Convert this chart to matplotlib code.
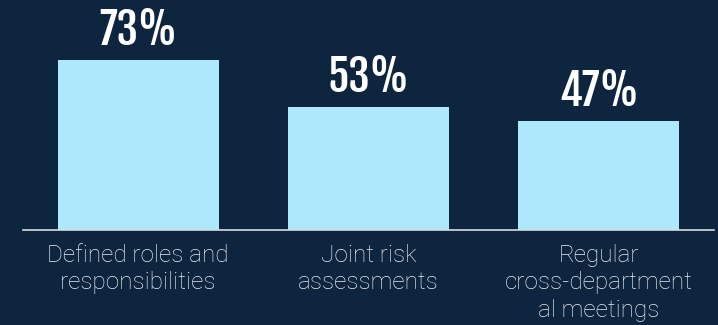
import matplotlib.pyplot as plt

# Chart data
categories = ["Defined roles and\nresponsibilities", "Joint risk\nassessments",
              "Regular\ncross-department\nal meetings"]
values = [73, 53, 47]
value_labels = ["73%", "53%", "47%"]

bg = "#0e2540"
bar_color = "#aee8fd"

fig = plt.figure(figsize=(7.18, 3.25), dpi=100, facecolor=bg)
ax = fig.add_axes([23 / 718, 95 / 325, 691 / 718, 230 / 325])
ax.set_facecolor(bg)

x = list(range(len(categories)))
ax.bar(x, values, width=0.70, color=bar_color, zorder=2)

for xi, v, lab in zip(x, values, value_labels):
    ax.annotate(lab, (xi, v), xytext=(0, 4), textcoords="offset points",
                ha="center", va="bottom", color="white", fontsize=31,
                family=["Fjalla One", "DejaVu Sans"])

ax.set_xlim(-0.5, 2.5)
ax.set_ylim(0, 230 / (170 / 73))
ax.set_xticks(x)
ax.set_xticklabels(categories, color="#e6ebf0", fontsize=17.5,
                   family=["Roboto", "DejaVu Sans"], fontweight="light",
                   linespacing=1.25)
ax.tick_params(axis="x", length=0, pad=10)
ax.set_yticks([])
for s in ["top", "left", "right"]:
    ax.spines[s].set_visible(False)
ax.spines["bottom"].set_color("#d5dce3")
ax.spines["bottom"].set_linewidth(1.2)
ax.spines["bottom"].set_zorder(3)

fig.savefig("out.png", dpi=100, facecolor=bg)
